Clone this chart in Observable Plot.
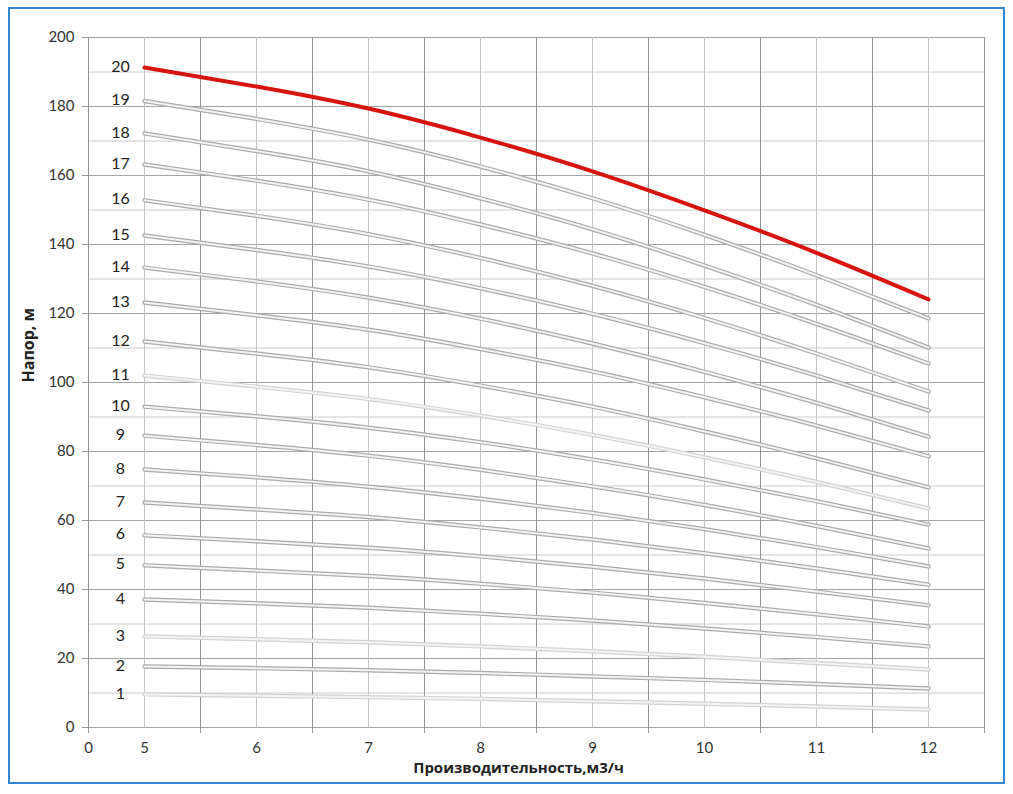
<!DOCTYPE html>
<html>
<head>
<meta charset="utf-8">
<script src="https://cdn.jsdelivr.net/npm/d3@7"></script>
<script src="https://cdn.jsdelivr.net/npm/@observablehq/plot@0.6"></script>
<style>
  html, body { margin: 0; padding: 0; background: #fff; }
  #wrap { position: relative; width: 1013px; height: 794px; overflow: hidden; }
  #frame { position: absolute; left: 8px; top: 7px; width: 993px; height: 773px; border: 2.5px solid #2f87d6; pointer-events: none; }
  #chart svg { display: block; }
</style>
</head>
<body>
<div id="wrap"><div id="chart"></div><div id="frame"></div></div>
<script>
// Flow (m3/h) and stage count
const flow = [5, 6, 7, 8, 9, 10, 11, 12];
const stages = [1, 2, 3, 4, 5, 6, 7, 8, 9, 10, 11, 12, 13, 14, 15, 16, 17, 18, 19, 20];

// Head (m) per stage count
const h1  = [9.6, 9.2, 8.8, 8.3, 7.6, 6.9, 6.1, 5.2];
const h2  = [17.7, 17.2, 16.6, 15.8, 14.8, 13.8, 12.6, 11.3];
const h3  = [26.4, 25.6, 24.7, 23.5, 22.1, 20.5, 18.7, 16.8];
const h4  = [37.1, 36.0, 34.7, 33.0, 31.0, 28.7, 26.2, 23.5];
const h5  = [47.0, 45.5, 43.9, 41.7, 39.1, 36.1, 32.8, 29.3];
const h6  = [55.7, 54.0, 52.1, 49.6, 46.6, 43.2, 39.4, 35.4];
const h7  = [65.2, 63.2, 61.0, 58.0, 54.5, 50.5, 46.1, 41.4];
const h8  = [74.8, 72.5, 69.8, 66.3, 62.2, 57.5, 52.3, 46.7];
const h9  = [84.6, 81.9, 78.8, 74.7, 69.9, 64.5, 58.4, 51.9];
const h10 = [93.0, 90.2, 86.9, 82.7, 77.7, 71.9, 65.6, 58.8];
const h11 = [102.0, 98.8, 95.2, 90.4, 84.8, 78.3, 71.2, 63.5];
const h12 = [111.9, 108.4, 104.4, 99.1, 93.0, 85.8, 78.0, 69.6];
const h13 = [123.2, 119.5, 115.3, 109.7, 103.2, 95.7, 87.5, 78.6];
const h14 = [133.3, 129.3, 124.6, 118.5, 111.3, 103.1, 94.1, 84.3];
const h15 = [142.6, 138.4, 133.6, 127.3, 119.9, 111.4, 102.0, 91.9];
const h16 = [152.8, 148.3, 143.0, 136.1, 128.0, 118.7, 108.4, 97.4];
const h17 = [163.2, 158.5, 153.0, 145.8, 137.4, 127.7, 117.0, 105.5];
const h18 = [172.2, 167.1, 161.2, 153.4, 144.4, 133.9, 122.5, 110.1];
const h19 = [181.6, 176.4, 170.4, 162.6, 153.4, 142.8, 131.1, 118.6];
const h20 = [191.3, 185.8, 179.4, 171.0, 161.2, 149.9, 137.6, 124.1];
const heads = [h1, h2, h3, h4, h5, h6, h7, h8, h9, h10, h11, h12, h13, h14, h15, h16, h17, h18, h19, h20];

// Axis ticks
const xTickValues = [4.5, 5, 6, 7, 8, 9, 10, 11, 12];
const xTickLabels = ["0", "5", "6", "7", "8", "9", "10", "11", "12"];
const xHalfLines = [4.5, 5.5, 6.5, 7.5, 8.5, 9.5, 10.5, 11.5, 12.5];
const xIntLines = [5, 6, 7, 8, 9, 10, 11, 12];
const yMajor = [0, 20, 40, 60, 80, 100, 120, 140, 160, 180, 200];
const yMinor = [10, 30, 50, 70, 90, 110, 130, 150, 170, 190];
const lightStages = [1, 3, 11];

const rows = stages.flatMap((s, i) => flow.map((q, j) => ({stage: s, q, h: heads[i][j]})));
const grayRows = rows.filter(d => d.stage !== 20);
const redRows = rows.filter(d => d.stage === 20);
const starts = rows.filter(d => d.q === flow[0]);

const font = "Lato, 'Noto Sans', 'Liberation Sans', sans-serif";
const titleFont = "'Open Sans', 'Noto Sans', sans-serif";

const chart = Plot.plot({
  width: 1013,
  height: 794,
  marginLeft: 88,
  marginRight: 29,
  marginTop: 37,
  marginBottom: 67,
  style: {fontFamily: font, fontSize: "15px", color: "#333", background: "transparent"},
  x: {domain: [4.5, 12.5]},
  y: {domain: [0, 200]},
  color: {type: "identity"},
  marks: [
    Plot.ruleY(yMinor, {stroke: "#cacaca", strokeWidth: 1}),
    Plot.ruleY(yMajor, {stroke: "#a4a4a4", strokeWidth: 1}),
    Plot.ruleX(xIntLines, {stroke: "#c4c4c4", strokeWidth: 1}),
    Plot.ruleX(xHalfLines, {stroke: "#939393", strokeWidth: 1}),
    Plot.axisY(yMajor, {tickSize: 6, tickPadding: 8, stroke: "#999", fontSize: 15, label: null}),
    Plot.axisX(xHalfLines, {tickSize: 6, tickFormat: () => "", stroke: "#999", label: null}),
    Plot.axisX(xTickValues, {tickSize: 0, tickPadding: 15, fontSize: 15, label: null,
      tickFormat: (d) => xTickLabels[xTickValues.indexOf(d)]}),
    Plot.line(grayRows, {x: "q", y: "h", z: "stage", curve: "natural",
      stroke: d => lightStages.includes(d.stage) ? "#d2d2d2" : "#ababab", strokeWidth: 4.4}),
    Plot.line(grayRows, {x: "q", y: "h", z: "stage", curve: "natural",
      stroke: "#f3f3f3", strokeWidth: 2}),
    Plot.line(redRows, {x: "q", y: "h", curve: "natural", stroke: "#d7130f", strokeWidth: 4}),
    Plot.text(starts, {x: "q", y: "h", text: "stage", dx: -24, dy: -1, fontSize: 16, fill: "#222"}),
    Plot.text(["Производительность,м3/ч"], {frameAnchor: "bottom", text: d => d, dx: -18, dy: 45,
      fontSize: 15, fontWeight: "bold", fontFamily: titleFont, fill: "#222"}),
    Plot.text(["Напор, м"], {frameAnchor: "left", text: d => d, dx: -60, rotate: -90,
      fontSize: 16, fontWeight: "bold", fontFamily: titleFont, fill: "#222"})
  ]
});
document.getElementById("chart").appendChild(chart);
</script>
</body>
</html>
